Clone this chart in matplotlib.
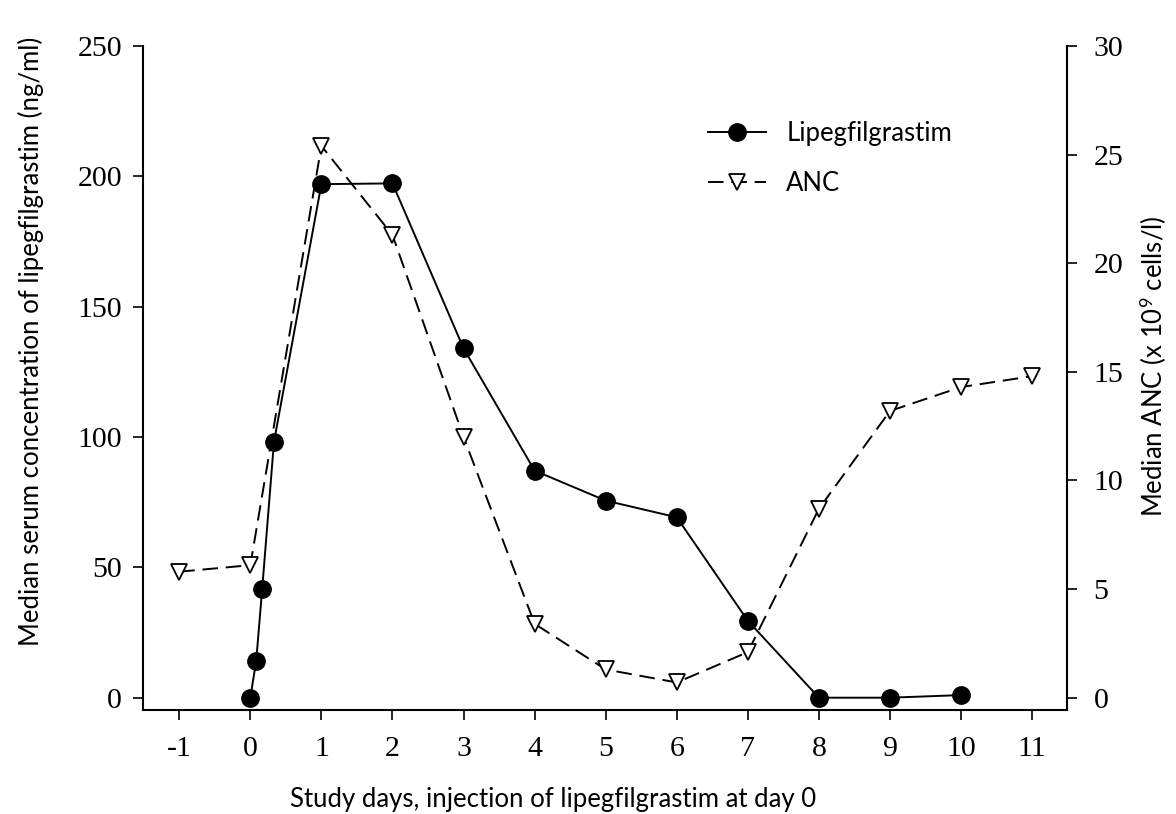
import matplotlib
matplotlib.use('Agg')
import matplotlib.pyplot as plt
from matplotlib.lines import Line2D

# data
lipeg_days = [0, 0.083, 0.167, 0.333, 1, 2, 3, 4, 5, 6, 7, 8, 9, 10]
lipeg_conc = [0, 14.2, 41.8, 98.2, 197.0, 197.3, 134.0, 87.1, 75.6, 69.2, 29.5, 0, 0, 1.0]

anc_days = [-1, 0, 1, 2, 3, 4, 5, 6, 7, 8, 9, 10, 11]
anc_vals = [5.8, 6.1, 25.4, 21.3, 12.0, 3.4, 1.3, 0.7, 2.1, 8.7, 13.2, 14.3, 14.8]

xticks = list(range(-1, 12))
left_ticks = [0, 50, 100, 150, 200, 250]
right_ticks = [0, 5, 10, 15, 20, 25, 30]

plt.rcParams['mathtext.fontset'] = 'custom'
plt.rcParams['mathtext.rm'] = 'Lato'
plt.rcParams['mathtext.it'] = 'Lato:italic'

label_font = dict(family='Lato', size=18.5)
tick_font = 'Liberation Serif'

fig = plt.figure(figsize=(11.76, 8.14), dpi=100)
ax = fig.add_axes([143 / 1176, 1 - 710 / 814, 924 / 1176, 664 / 814])
ax2 = ax.twinx()
ax.set_zorder(ax2.get_zorder() + 1)
ax.patch.set_visible(False)

anc_style = dict(color='black', lw=1.4, dashes=(8, 4), marker='v', ms=11,
                 mfc='white', mec='black', mew=1.3)
lipeg_style = dict(color='black', lw=1.4, marker='o', ms=12.5,
                   mfc='black', mec='black')

ax2.plot(anc_days, anc_vals, **anc_style)
ax.plot(lipeg_days, lipeg_conc, **lipeg_style)

ax.set_xlim(-1.51, 11.49)
ax.set_ylim(-4.72, 250)
ax2.set_ylim(-4.72 * 30 / 250, 30)

ax.set_xticks(xticks)
ax.set_xticklabels([str(t) for t in xticks])
ax.set_yticks(left_ticks)
ax2.set_yticks(right_ticks)

for a in (ax, ax2):
    a.spines['top'].set_visible(False)
    for s in a.spines.values():
        s.set_linewidth(1.5)
    a.tick_params(direction='out', length=7, width=1.2, labelsize=21.5)
    for lab in a.get_xticklabels() + a.get_yticklabels():
        lab.set_fontfamily(tick_font)
ax.spines['right'].set_visible(False)
ax2.spines['left'].set_visible(False)
ax2.spines['bottom'].set_visible(False)
ax.tick_params(axis='y', pad=8)
ax.tick_params(axis='x', pad=12)
ax2.tick_params(axis='y', pad=12)

ax.set_xlabel('Study days, injection of lipegfilgrastim at day 0', **label_font)
ax.xaxis.set_label_coords(0.4433, -0.116)
ax.set_ylabel('Median serum concentration of lipegfilgrastim (ng/ml)', **label_font)
ax.yaxis.set_label_coords(-0.107, 0.555)
ax2.set_ylabel('Median ANC (x 10$^{9}$ cells/l)', **label_font)
ax2.yaxis.set_label_coords(1.077, 0.518)

handles = [Line2D([], [], **lipeg_style), Line2D([], [], **anc_style)]
fig.legend(handles, ['Lipegfilgrastim', 'ANC'], loc='center left',
           bbox_to_anchor=(708 / 1176, 1 - 158.5 / 814), frameon=False,
           prop=dict(family='Lato', size=18.5), handlelength=2.25,
           handletextpad=0.8, labelspacing=0.95, borderpad=0, borderaxespad=0)

fig.savefig('out.png', dpi=100)
